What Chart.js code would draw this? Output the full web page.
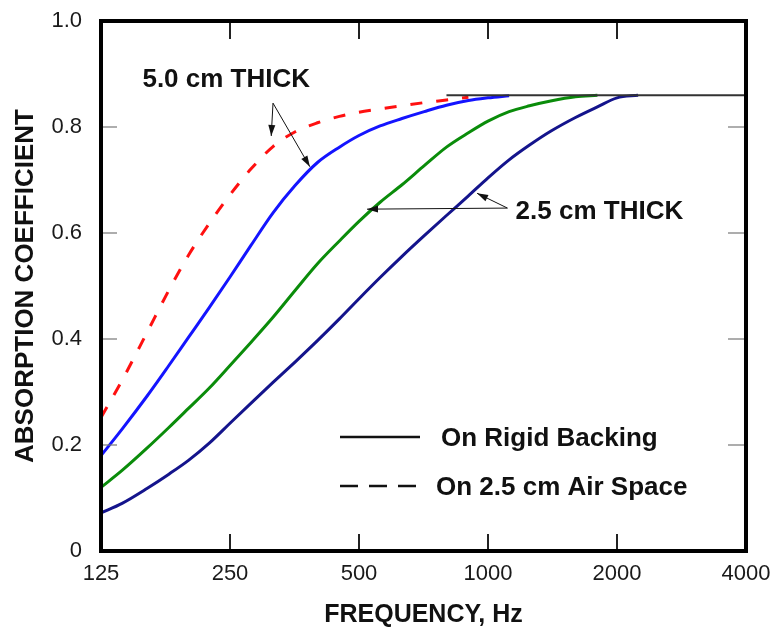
<!DOCTYPE html>
<html>
<head>
<meta charset="utf-8">
<script src="https://cdn.jsdelivr.net/npm/chart.js@4/dist/chart.umd.min.js"></script>
<style>
  html, body { margin: 0; padding: 0; background: #fff; }
  #wrap { width: 771px; height: 628px; position: relative; }
</style>
</head>
<body>
<div id="wrap"><canvas id="chart"></canvas></div>
<script>
// 吸音率カーブ。周波数は1/6オクターブ刻み、各系列は台地(0.86)に合流したところで終わる。
const freqs = [125, 140, 160, 180, 200, 224, 250, 280, 315, 355, 400, 450, 500, 560, 630, 710,
  800, 900, 1000, 1120, 1250, 1400, 1600, 1800, 2000, 2240];

const thick50Air = [0.252, 0.322, 0.412, 0.492, 0.558, 0.619, 0.672, 0.721, 0.763, 0.791, 0.808,
  0.820, 0.828, 0.834, 0.840, 0.846, 0.851, 0.856];
const thick50Rigid = [0.18, 0.230, 0.292, 0.350, 0.403, 0.460, 0.517, 0.577, 0.638, 0.690, 0.733,
  0.762, 0.784, 0.802, 0.816, 0.829, 0.841, 0.850, 0.855, 0.859];
const thick25Green = [0.12, 0.152, 0.194, 0.233, 0.269, 0.308, 0.350, 0.394, 0.441, 0.492, 0.542,
  0.585, 0.622, 0.658, 0.691, 0.727, 0.762, 0.789, 0.811, 0.829, 0.840, 0.849, 0.857, 0.86];
const thick25Navy = [0.072, 0.090, 0.118, 0.145, 0.171, 0.204, 0.241, 0.279, 0.318, 0.357, 0.397,
  0.438, 0.476, 0.516, 0.556, 0.595, 0.633, 0.670, 0.704, 0.738, 0.766, 0.792, 0.818, 0.838, 0.855, 0.86];

const plateauFreqs = [800, 4000];
const plateauValues = [0.86, 0.86];

const xTickValues = [125, 250, 500, 1000, 2000, 4000];
const yTickValues = [0, 0.2, 0.4, 0.6, 0.8, 1.0];
const innerXTicks = [250, 500, 1000, 2000];
const innerYTicks = [0.2, 0.4, 0.6, 0.8];

const legendLabels = ["On Rigid Backing", "On 2.5 cm Air Space"];
const xTitle = "FREQUENCY, Hz";
const yTitle = "ABSORPTION COEFFICIENT";

// 注記: 文字位置と矢印はデータ座標で持つ
const note50 = { text: "5.0 cm THICK", at: [245, 0.889], from: [315, 0.845], tips: [[312, 0.783], [384, 0.725]] };
const note25 = { text: "2.5 cm THICK", at: [1160, 0.640], from: [1110, 0.647], tips: [[522, 0.645], [943, 0.675]] };

const FONT = "'Liberation Sans', Arial, sans-serif";

const points = (vals) => vals.map((v, i) => ({ x: freqs[i], y: v }));

function curve(data, color, dash) {
  return {
    data,
    borderColor: color,
    borderWidth: 3,
    borderDash: dash || [],
    pointRadius: 0,
    fill: false,
    cubicInterpolationMode: "monotone",
  };
}

function arrow(ctx, x1, y1, x2, y2) {
  ctx.beginPath();
  ctx.moveTo(x1, y1);
  ctx.lineTo(x2, y2);
  ctx.stroke();
  const a = Math.atan2(y2 - y1, x2 - x1);
  const len = 11, w = 3.5;
  ctx.beginPath();
  ctx.moveTo(x2, y2);
  ctx.lineTo(x2 - len * Math.cos(a) + w * Math.sin(a), y2 - len * Math.sin(a) - w * Math.cos(a));
  ctx.lineTo(x2 - len * Math.cos(a) - w * Math.sin(a), y2 - len * Math.sin(a) + w * Math.cos(a));
  ctx.closePath();
  ctx.fill();
}

const framePlugin = {
  id: "frame",
  afterDatasetsDraw(chart) {
    const { ctx, chartArea: a, scales: { x, y } } = chart;
    const line = (x1, y1, x2, y2) => { ctx.beginPath(); ctx.moveTo(x1, y1); ctx.lineTo(x2, y2); ctx.stroke(); };
    ctx.save();

    ctx.strokeStyle = "#222";
    ctx.lineWidth = 2;
    innerXTicks.forEach((f) => {
      const px = x.getPixelForValue(f);
      line(px, a.bottom, px, a.bottom - 17);
      line(px, a.top, px, a.top + 18);
    });
    ctx.strokeStyle = "#777";
    ctx.lineWidth = 1.2;
    innerYTicks.forEach((v) => {
      const py = y.getPixelForValue(v);
      line(a.left, py, a.left + 16, py);
      line(a.right, py, a.right - 18, py);
    });

    ctx.strokeStyle = "#000";
    ctx.lineWidth = 4;
    ctx.strokeRect(a.left, a.top, a.right - a.left, a.bottom - a.top);

    // 注記
    ctx.fillStyle = "#111";
    ctx.strokeStyle = "#111";
    ctx.lineWidth = 1;
    ctx.font = `bold 26px ${FONT}`;
    ctx.textBaseline = "middle";
    const P = (p) => [x.getPixelForValue(p[0]), y.getPixelForValue(p[1])];

    ctx.textAlign = "center";
    const t50 = P(note50.at);
    ctx.fillText(note50.text, t50[0], t50[1]);
    const f50 = P(note50.from);
    note50.tips.forEach((t) => { const q = P(t); arrow(ctx, f50[0], f50[1], q[0], q[1]); });

    ctx.textAlign = "left";
    const t25 = P(note25.at);
    ctx.fillText(note25.text, t25[0], t25[1]);
    const f25 = P(note25.from);
    note25.tips.forEach((t) => { const q = P(t); arrow(ctx, f25[0], f25[1], q[0], q[1]); });

    // 凡例
    const lx = a.left + 239, lw = 80;
    const ly = [a.top + 416, a.top + 465];
    ctx.strokeStyle = "#111";
    ctx.lineWidth = 2.5;
    line(lx, ly[0], lx + lw, ly[0]);
    ctx.setLineDash([18, 11]);
    line(lx, ly[1], lx + lw, ly[1]);
    ctx.setLineDash([]);
    ctx.fillText(legendLabels[0], lx + 101, ly[0] + 2);
    ctx.fillText(legendLabels[1], lx + 96, ly[1] + 2);

    ctx.restore();
  },
};

new Chart(document.getElementById("chart"), {
  type: "line",
  data: {
    datasets: [
      {
        data: plateauFreqs.map((f, i) => ({ x: f, y: plateauValues[i] })),
        borderColor: "#333",
        borderWidth: 2,
        pointRadius: 0,
      },
      curve(points(thick50Air), "#ff1010", [12, 14]),
      curve(points(thick50Rigid), "#1414ff"),
      curve(points(thick25Green), "#0a8c0a"),
      curve(points(thick25Navy), "#14148c"),
    ],
  },
  plugins: [framePlugin],
  options: {
    responsive: true,
    maintainAspectRatio: false,
    animation: false,
    layout: { padding: { left: 0, top: 21, right: 25, bottom: 0 } },
    plugins: { legend: { display: false }, tooltip: { enabled: false } },
    scales: {
      x: {
        type: "logarithmic",
        min: 125,
        max: 4000,
        afterBuildTicks: (s) => { s.ticks = xTickValues.map((v) => ({ value: v })); },
        afterFit: (s) => { s.height = 77; s.paddingLeft = 0; s.paddingRight = 0; },
        grid: { display: false, drawTicks: false },
        border: { display: false },
        ticks: {
          padding: 10,
          autoSkip: false,
          maxRotation: 0,
          color: "#1a1a1a",
          font: { family: FONT, size: 22 },
          callback: (v) => String(v),
        },
        title: {
          display: true,
          text: xTitle,
          color: "#111",
          font: { family: FONT, size: 25, weight: "bold", lineHeight: 1 },
          padding: { top: 0, bottom: 0 },
        },
      },
      y: {
        min: 0,
        max: 1,
        afterBuildTicks: (s) => { s.ticks = yTickValues.map((v) => ({ value: v })); },
        afterFit: (s) => { s.width = 101; s.paddingTop = 0; s.paddingBottom = 0; },
        grid: { display: false, drawTicks: false },
        border: { display: false },
        ticks: {
          padding: 19,
          color: "#1a1a1a",
          font: { family: FONT, size: 22 },
          callback: (v) => (v === 0 ? "0" : v.toFixed(1)),
        },
        title: {
          display: true,
          text: yTitle,
          color: "#111",
          font: { family: FONT, size: 26, weight: "bold", lineHeight: 1 },
          padding: { top: 13, bottom: 0 },
        },
      },
    },
  },
});
</script>
</body>
</html>
